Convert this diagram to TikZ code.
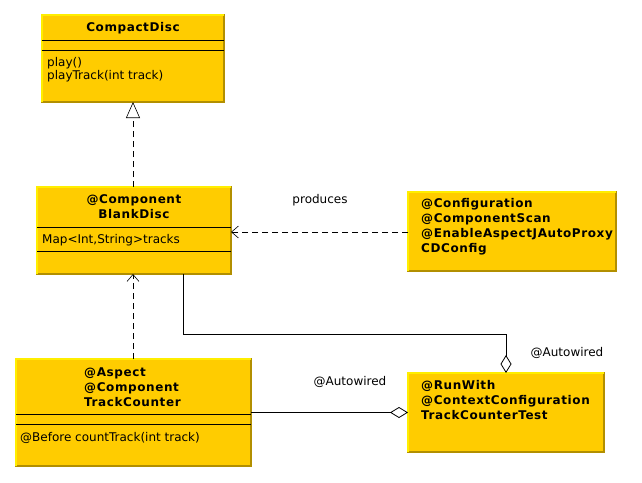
\documentclass[tikz,border=0pt]{standalone}
\usepackage{fontspec}
\setmainfont{DejaVu Sans}
\newfontfamily\spacedbold[LetterSpace=5]{DejaVu Sans Bold}
\usetikzlibrary{arrows.meta,calc}
\definecolor{boxfill}{RGB}{255,204,0}
\definecolor{boxdark}{RGB}{178,143,0}
\definecolor{boxlight}{RGB}{255,238,0}
\begin{document}
\begin{tikzpicture}[x=1pt,y=-1pt,
  umlbox/.style={draw=boxdark,line width=1.2pt,fill=boxfill,inner sep=0pt,outer sep=0pt},
  txt/.style={anchor=base west,inner sep=0pt,font=\fontsize{12}{14}\selectfont},
  btxt/.style={anchor=base west,inner sep=0pt,font=\fontsize{12}{14}\spacedbold},
  ctxt/.style={anchor=base,inner sep=0pt,font=\fontsize{12}{14}\spacedbold},
  sep/.style={line width=0.8pt},
  dep/.style={dash pattern=on 6pt off 4pt,line width=0.6pt},
  lbl/.style={inner sep=0pt,font=\fontsize{12}{14}\selectfont}]
\useasboundingbox (0,0) rectangle (642,482);
% boxes
\node[umlbox,minimum width=182,minimum height=87] (cd) at (133,58.5) {};
\node[umlbox,minimum width=194,minimum height=87] (bd) at (134,230.5) {};
\node[umlbox,minimum width=208,minimum height=79] (cfg) at (512,231.5) {};
\node[umlbox,minimum width=235,minimum height=107] (tc) at (133.5,412.5) {};
\node[umlbox,minimum width=196,minimum height=79] (tct) at (506,412.5) {};
\foreach \b in {cd,bd,cfg,tc,tct}{
  \draw[boxlight,line width=1.2pt] (\b.south west) -- (\b.north west) -- (\b.north east);
}
% CompactDisc
\node[ctxt] (cdt) at (133,31) {CompactDisc};
\draw[sep] (42,40) -- (224,40);
\draw[sep] (42,50) -- (224,50);
\node[txt] (cdm1) at (47,66) {play()};
\node[txt] (cdm2) at (47,79) {playTrack(int track)};
% BlankDisc
\node[ctxt] (bdt1) at (134,203) {@Component};
\node[ctxt] (bdt2) at (134,218) {BlankDisc};
\draw[sep] (37,227) -- (231,227);
\node[txt] (bda) at (42,243) {Map<Int,String>tracks};
\draw[sep] (37,251) -- (231,251);
% CDConfig
\node[btxt] (c1) at (421,207) {@Configuration};
\node[btxt] (c2) at (421,222) {@ComponentScan};
\node[btxt] (c3) at (421,237) {@EnableAspectJAutoProxy};
\node[btxt] (c4) at (421,252) {CDConfig};
% TrackCounter
\node[btxt] (t1) at (84,376) {@Aspect};
\node[btxt] (t2) at (84,391) {@Component};
\node[btxt] (t3) at (84,406) {TrackCounter};
\draw[sep] (16,414) -- (251,414);
\draw[sep] (16,424) -- (251,424);
\node[txt] (tm) at (20,441) {@Before countTrack(int track)};
% TrackCounterTest
\node[btxt] (s1) at (421,389) {@RunWith};
\node[btxt] (s2) at (421,404) {@ContextConfiguration};
\node[btxt] (s3) at (421,419) {TrackCounterTest};
% connectors
\draw[dep,-{Triangle[open,length=16pt,width=14pt,fill=white]}] (bd.north -| cd.south) -- (cd.south);
\draw[dep,-{Straight Barb[length=7pt,width=12pt]}] (tc.north -| cd.south) -- (bd.south -| cd.south);
\draw[dep,-{Straight Barb[length=7pt,width=12pt]}] ($(cfg.west)+(0,0.5)$) -- ($(cfg.west -| bd.east)+(0,0.5)$);
\coordinate (bdout) at ($(bd.south west)+(146,0)$);
\draw[line width=0.8pt,-{Diamond[open,length=18pt,width=11pt,fill=white]}] (bdout) |- ($(tct.north)+(0,-39)$) -- (tct.north);
\draw[line width=0.8pt,-{Diamond[open,length=18pt,width=11pt,fill=white]}] (tc.east) -- (tct.west);
% labels
\node[lbl] (l1) at (320,200) {produces};
\node[lbl] (l2) at (350,382) {@Autowired};
\node[lbl] (l3) at (567,353) {@Autowired};
\end{tikzpicture}
\end{document}
